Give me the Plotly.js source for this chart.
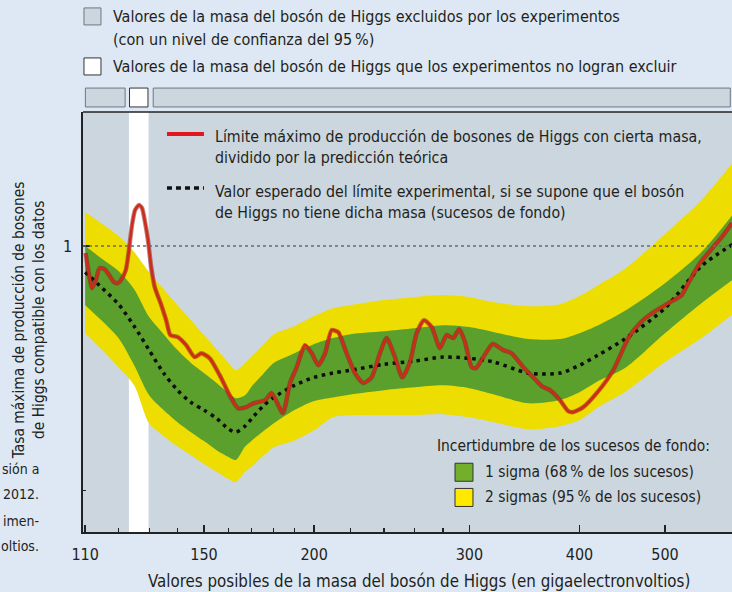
<!DOCTYPE html>
<html>
<head>
<meta charset="utf-8">
<script src="https://cdn.plot.ly/plotly-3.0.1.min.js"></script>
<style>
  html, body { margin: 0; padding: 0; background: #dde8f4; }
  #chart { width: 732px; height: 592px; }
</style>
</head>
<body>
<div id="chart"></div>
<script>
// ---- Data ----
// Grid of Higgs masses (GeV) for the expected limit and its bands
const gridMass = [110,115,120,125,130,135,140,145,150,155,160,163,167,170,175,180,190,200,210,220,240,260,280,300,320,350,380,400,420,450,500,550,600];
const expected = [0.782,0.673,0.578,0.470,0.375,0.302,0.257,0.229,0.213,0.197,0.178,0.173,0.183,0.197,0.221,0.240,0.269,0.290,0.302,0.310,0.328,0.338,0.351,0.347,0.335,0.302,0.302,0.325,0.358,0.416,0.557,0.828,1.029];
const sigma1Up = [1.000,0.885,0.790,0.666,0.512,0.436,0.375,0.332,0.302,0.275,0.250,0.238,0.245,0.267,0.299,0.332,0.364,0.397,0.420,0.436,0.448,0.461,0.474,0.466,0.444,0.416,0.416,0.440,0.474,0.542,0.705,0.945,1.379];
const sigma1Dn = [0.573,0.493,0.420,0.325,0.245,0.213,0.190,0.173,0.159,0.146,0.137,0.133,0.151,0.160,0.174,0.188,0.213,0.232,0.240,0.247,0.257,0.264,0.269,0.262,0.247,0.227,0.234,0.252,0.280,0.316,0.440,0.584,0.739];
const sigma2Up = [1.379,1.231,1.099,0.945,0.782,0.666,0.573,0.497,0.432,0.378,0.332,0.310,0.332,0.354,0.393,0.436,0.470,0.517,0.557,0.573,0.601,0.618,0.630,0.618,0.589,0.567,0.578,0.624,0.692,0.805,1.120,1.543,2.252];
const sigma2Dn = [0.440,0.375,0.319,0.269,0.188,0.167,0.151,0.139,0.128,0.119,0.111,0.108,0.119,0.125,0.138,0.150,0.160,0.176,0.199,0.203,0.203,0.203,0.205,0.199,0.190,0.178,0.183,0.194,0.219,0.252,0.335,0.420,0.536];

// Observed limit (red line)
const obsMass = [110.1,110.8,112.0,113.1,114.2,115.7,117.3,118.6,119.8,120.8,122.3,123.3,124.3,125.3,126.6,127.6,128.6,129.6,130.6,131.9,134.2,135.9,137.4,140.1,143.2,146.4,149.0,152.3,156.3,160.4,163.9,167.5,170.6,176.0,179.0,184.3,187.8,191.1,195.3,198.8,202.2,205.8,209.4,213.0,217.7,222.5,227.4,232.4,237.5,241.7,247.0,251.8,256.9,261.4,266.5,271.9,277.8,282.7,287.6,292.2,296.6,301.8,305.2,311.1,318.9,327.8,335.0,345.4,354.5,362.4,370.3,380.1,388.4,393.5,403.9,418.3,436.8,454.3,468.4,485.0,506.6,522.3,531.4,547.9,567.3,582.3,595.7];
const observed = [0.936,0.812,0.673,0.726,0.812,0.805,0.753,0.712,0.705,0.726,0.797,0.963,1.219,1.404,1.473,1.431,1.254,1.058,0.836,0.679,0.573,0.497,0.432,0.424,0.393,0.351,0.364,0.347,0.296,0.245,0.217,0.219,0.227,0.234,0.250,0.207,0.275,0.319,0.393,0.364,0.325,0.364,0.453,0.444,0.364,0.302,0.275,0.290,0.364,0.420,0.351,0.290,0.335,0.440,0.497,0.466,0.382,0.432,0.420,0.457,0.404,0.319,0.316,0.351,0.397,0.375,0.364,0.319,0.290,0.267,0.257,0.234,0.211,0.209,0.219,0.250,0.310,0.420,0.484,0.536,0.589,0.630,0.705,0.852,0.991,1.109,1.242];

// Mass ranges: excluded and not excluded
const excludedRanges = [[109.4, 122.7], [130.6, 596]];
const allowedRange = [123.5, 129.6];
const whiteBand = [123.3, 129.8];

// Axis ticks
const xTickVals = [110,150,200,300,400,500];
const xTickText = ['110','150','200','300','400','500'];
const xMinorVals = [120,130,140,160,170,180,190,220,240,260,280];
const yTickVals = [1];
const yTickText = ['1'];
const yMinorVals = [0.1];

// ---- Styles ----
const FONT = '"DejaVu Sans Condensed", "DejaVu Sans", sans-serif';
const TXT = '#231f20';
const GREEN = '#5b9f2d';
const YELLOW = '#eedd00';

const traces = [
  {x: gridMass, y: sigma2Dn, mode: 'lines', line: {width: 0, shape: 'spline', smoothing: 0.8}, hoverinfo: 'skip', showlegend: false},
  {x: gridMass, y: sigma2Up, mode: 'lines', fill: 'tonexty', fillcolor: YELLOW, line: {width: 0, shape: 'spline', smoothing: 0.8}, hoverinfo: 'skip', showlegend: false},
  {x: gridMass, y: sigma1Dn, mode: 'lines', line: {width: 0, shape: 'spline', smoothing: 0.8}, hoverinfo: 'skip', showlegend: false},
  {x: gridMass, y: sigma1Up, mode: 'lines', fill: 'tonexty', fillcolor: GREEN, line: {width: 0, shape: 'spline', smoothing: 0.8}, hoverinfo: 'skip', showlegend: false},
  {x: gridMass, y: expected, mode: 'lines', line: {color: '#0d0d0d', width: 3.5, dash: '3.5px,4.5px', shape: 'spline', smoothing: 0.8}, showlegend: false},
  {x: obsMass, y: observed, mode: 'lines', line: {color: '#8a1c14', width: 4.5, shape: 'spline', smoothing: 0.6}, opacity: 0.55, hoverinfo: 'skip', showlegend: false},
  {x: obsMass, y: observed, mode: 'lines', line: {color: '#cf2a1c', width: 2.6, shape: 'spline', smoothing: 0.6}, showlegend: false}
];

const shapes = [];
// white (not excluded) band inside the plot
shapes.push({type: 'rect', layer: 'below', xref: 'x', yref: 'paper', x0: whiteBand[0], x1: whiteBand[1], y0: 0, y1: 1, fillcolor: '#ffffff', line: {width: 0}});
// horizontal dotted line at 1
shapes.push({type: 'line', xref: 'paper', yref: 'y', x0: 0, x1: 1, y0: 1, y1: 1, line: {color: '#666b7c', width: 1.5, dash: 'dot'}});
// top border
shapes.push({type: 'line', xref: 'paper', yref: 'paper', x0: 0, x1: 1, y0: 1, y1: 1, line: {color: '#222', width: 1.5}});
// strip above the plot
excludedRanges.forEach(r => shapes.push({type: 'rect', xref: 'x', yref: 'paper', x0: r[0] * 1.006, x1: r[1] * 0.995, y0: 1.012, y1: 1.057, fillcolor: '#cbd6df', line: {color: '#6f7780', width: 1}}));
shapes.push({type: 'rect', xref: 'x', yref: 'paper', x0: allowedRange[0], x1: allowedRange[1], y0: 1.012, y1: 1.057, fillcolor: '#ffffff', line: {color: '#333', width: 1}});
// top legend boxes
shapes.push({type: 'rect', xref: 'paper', yref: 'paper', x0: 0.0015, x1: 0.0277, y0: 1.2073, y1: 1.2478, fillcolor: '#cbd6df', line: {color: '#6f7780', width: 1}});
shapes.push({type: 'rect', xref: 'paper', yref: 'paper', x0: 0.0015, x1: 0.0277, y0: 1.0882, y1: 1.1287, fillcolor: '#ffffff', line: {color: '#333', width: 1}});
// in-plot legend samples
shapes.push({type: 'line', xref: 'paper', yref: 'paper', x0: 0.1294, x1: 0.1864, y0: 0.9476, y1: 0.9476, line: {color: '#e2171e', width: 4}});
shapes.push({type: 'line', xref: 'paper', yref: 'paper', x0: 0.1294, x1: 0.1864, y0: 0.8189, y1: 0.8189, line: {color: '#111', width: 3.5, dash: '5px,4px'}});
// band legend boxes
shapes.push({type: 'rect', xref: 'paper', yref: 'paper', x0: 0.5732, x1: 0.6009, y0: 0.1208, y1: 0.1637, fillcolor: '#72b02c', line: {color: '#333', width: 1}});
shapes.push({type: 'rect', xref: 'paper', yref: 'paper', x0: 0.5732, x1: 0.6009, y0: 0.0608, y1: 0.1037, fillcolor: '#ffe900', line: {color: '#333', width: 1}});

function ann(text, x, y, size, xanchor, extra) {
  return Object.assign({text: text, x: x, y: y, xref: 'paper', yref: 'paper', xanchor: xanchor || 'left', yanchor: 'middle', align: xanchor === 'right' ? 'right' : 'left', showarrow: false, font: {family: FONT, size: size, color: TXT}}, extra || {});
}

const annotations = [
  ann('Valores de la masa del bosón de Higgs excluidos por los experimentos', 0.0431, 1.2263, 16),
  ann('(con un nivel de confianza del 95\u2009%)', 0.0431, 1.1715, 16),
  ann('Valores de la masa del bosón de Higgs que los experimentos no logran excluir', 0.0431, 1.1072, 16),
  ann('Límite máximo de producción de bosones de Higgs con cierta masa,<br>dividido por la predicción teórica', 0.2003, 0.9166, 15.8),
  ann('Valor esperado del límite experimental, si se supone que el bosón<br>de Higgs no tiene dicha masa (sucesos de fondo)', 0.2003, 0.7868, 15.8),
  ann('Incertidumbre de los sucesos de fondo:', 0.5424, 0.2042, 15.4),
  ann('1 sigma (68\u2009% de los sucesos)', 0.6163, 0.1422, 15.4),
  ann('2 sigmas (95\u2009% de los sucesos)', 0.6163, 0.0827, 15.4),
  ann('Valores posibles de la masa del bosón de Higgs (en gigaelectronvoltios)', 0.517, -0.1168, 16.8, 'center'),
  ann('Tasa máxima de producción de bosones<br>de Higgs compatible con los datos', -0.0832, 0.5044, 15.4, 'center', {textangle: -90, align: 'center'}),
  ann('sión a', -0.0647, 0.1494, 14, 'right'),
  ann('2012.', -0.0647, 0.0898, 14, 'right'),
  ann('imen-', -0.0647, 0.0255, 14, 'right'),
  ann('oltios.', -0.0647, -0.0341, 14, 'right')
];

const layout = {
  width: 732, height: 592,
  margin: {l: 83, r: 0, t: 112, b: 60, pad: 0},
  paper_bgcolor: '#dde8f4',
  plot_bgcolor: '#cbd6df',
  showlegend: false,
  font: {family: FONT, size: 16, color: TXT},
  xaxis: {
    type: 'log', range: [2.0389, 2.775],
    tickmode: 'array', tickvals: xTickVals, ticktext: xTickText,
    ticks: 'inside', ticklen: 7, tickwidth: 1.6, tickcolor: '#222',
    ticklabelstandoff: 7,
    minor: {tickmode: 'array', tickvals: xMinorVals, ticks: 'inside', ticklen: 4, tickwidth: 1.2, tickcolor: '#222', showgrid: false},
    showline: true, linecolor: '#222', linewidth: 1.6,
    showgrid: false, zeroline: false,
    tickfont: {family: FONT, size: 16, color: TXT}
  },
  yaxis: {
    type: 'log', range: [-1.1709, 0.5492],
    tickmode: 'array', tickvals: yTickVals, ticktext: yTickText,
    ticks: 'inside', ticklen: 7, tickwidth: 1.6, tickcolor: '#222',
    ticklabelstandoff: 6,
    minor: {tickmode: 'array', tickvals: yMinorVals, ticks: 'inside', ticklen: 3, tickwidth: 1.2, tickcolor: '#222', showgrid: false},
    showline: true, linecolor: '#222', linewidth: 1.6,
    showgrid: false, zeroline: false,
    tickfont: {family: FONT, size: 16, color: TXT}
  },
  shapes: shapes,
  annotations: annotations
};

Plotly.newPlot('chart', traces, layout, {staticPlot: true, displayModeBar: false});
</script>
</body>
</html>
